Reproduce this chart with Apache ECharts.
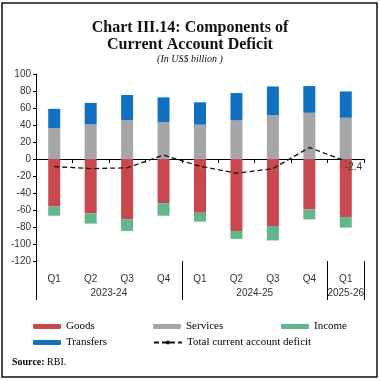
<!DOCTYPE html>
<html>
<head>
<meta charset="utf-8">
<script src="https://cdn.jsdelivr.net/npm/echarts@6/dist/echarts.min.js"></script>
<style>html,body{margin:0;padding:0;background:#fff;}#c{width:380px;height:381px;}</style>
</head>
<body>
<div id="c"></div>
<script>
const quarters = ['Q1','Q2','Q3','Q4','Q1','Q2','Q3','Q4','Q1'];
const years = ['2023-24','2024-25','2025-26'];
const yearCenters = [2, 6, 8.5];
const yearBounds = [0, 4, 8, 9];
const goods = [-55.9,-64.0,-71.0,-52.0,-63.2,-84.6,-78.8,-59.4,-68.3];
const services = [36.1,40.7,45.7,43.4,40.4,45.4,51.6,54.4,48.5];
const income = [-10.8,-12.0,-13.6,-14.7,-10.5,-9.4,-17.0,-11.6,-12.4];
const transfers = [22.9,25.3,29.6,29.1,26.3,32.2,33.7,31.4,31.0];
const totalCAD = [-8.9,-11.3,-10.4,4.6,-8.6,-16.7,-11.3,13.5,-2.4];
const yTicks = {min:-120, max:100, step:20};

const serif = 'Liberation Serif';
const sans = 'Liberation Sans';
const chart = echarts.init(document.getElementById('c'), null, {renderer:'canvas'});

const lineData = totalCAD.map((v,i)=> i === totalCAD.length-1 ? {value:v, label:{show:true, position:'right', distance:0, offset:[-1,6], formatter:String(v), color:'#333', fontFamily:sans, fontSize:10}} : v);

function legendAt(name, left, top){
  return {data:[name], left:left, top:top, itemWidth:28, itemHeight:5, itemGap:5, selectedMode:false,
    textStyle:{fontFamily:serif, fontSize:11, color:'#000'}, padding:0};
}

chart.setOption({
  animation:false,
  title:{text:'Chart III.14: Components of\nCurrent Account Deficit', subtext:'(In US$ billion )', left:'center', top:14, itemGap:1,
    textStyle:{fontFamily:serif, fontWeight:'bold', fontSize:16, lineHeight:17, color:'#111'},
    subtextStyle:{fontFamily:serif, fontStyle:'italic', fontSize:10, color:'#111'}},
  grid:{left:36, right:16, top:74, bottom:120},
  legend:[
    legendAt('Goods',33,321), legendAt('Services',153,321), legendAt('Income',281,321),
    legendAt('Transfers',33,337), legendAt('Total current account deficit',153,337)
  ],
  xAxis:[
    {type:'category', data:quarters, axisLine:{onZero:true, lineStyle:{color:'#000', width:1}},
     axisTick:{show:true, length:4, lineStyle:{color:'#000'}}, axisLabel:{show:false}, splitLine:{show:false}},
    {type:'category', data:quarters, position:'bottom', axisLine:{show:false}, axisTick:{show:false},
     axisLabel:{margin:13, fontFamily:sans, fontSize:10, color:'#333'}},
    {type:'value', min:0, max:9, position:'bottom', axisLine:{show:false}, splitLine:{show:false},
     axisTick:{show:true, customValues:yearBounds, length:39, lineStyle:{color:'#000'}},
     axisLabel:{customValues:yearCenters, margin:27, fontFamily:sans, fontSize:10, color:'#333',
       formatter:(v)=> years[yearCenters.indexOf(v)] || ''}}
  ],
  yAxis:{type:'value', min:yTicks.min, max:yTicks.max, interval:yTicks.step, splitLine:{show:false},
    axisLine:{show:true, lineStyle:{color:'#000'}}, axisTick:{show:true, length:3, lineStyle:{color:'#000'}},
    axisLabel:{margin:5, fontFamily:sans, fontSize:10, color:'#333'}},
  series:[
    {name:'Goods', type:'bar', stack:'a', data:goods, barWidth:12, itemStyle:{color:'#C9484D'}},
    {name:'Services', type:'bar', stack:'a', data:services, barWidth:12, itemStyle:{color:'#A6A6A6'}},
    {name:'Income', type:'bar', stack:'a', data:income, barWidth:12, itemStyle:{color:'#62B68B'}},
    {name:'Transfers', type:'bar', stack:'a', data:transfers, barWidth:12, itemStyle:{color:'#1170C0'}},
    {name:'Total current account deficit', type:'line', data:lineData, symbol:'circle', symbolSize:0.1, showSymbol:true, z:5,
     lineStyle:{color:'#111', width:1.3, type:[5,3]}, itemStyle:{color:'#111'}}
  ],
  graphic:[
    {type:'rect', shape:{x:2, y:3, width:375, height:374}, style:{fill:'none', stroke:'#111', lineWidth:1.5}, silent:true},
    {type:'text', left:12, top:357, style:{text:'{b|Source:} RBI.', rich:{b:{fontWeight:'bold', fontFamily:serif, fontSize:10, fill:'#000'}}, fontFamily:serif, fontSize:10, fill:'#000'}}
  ]
});
</script>
</body>
</html>
